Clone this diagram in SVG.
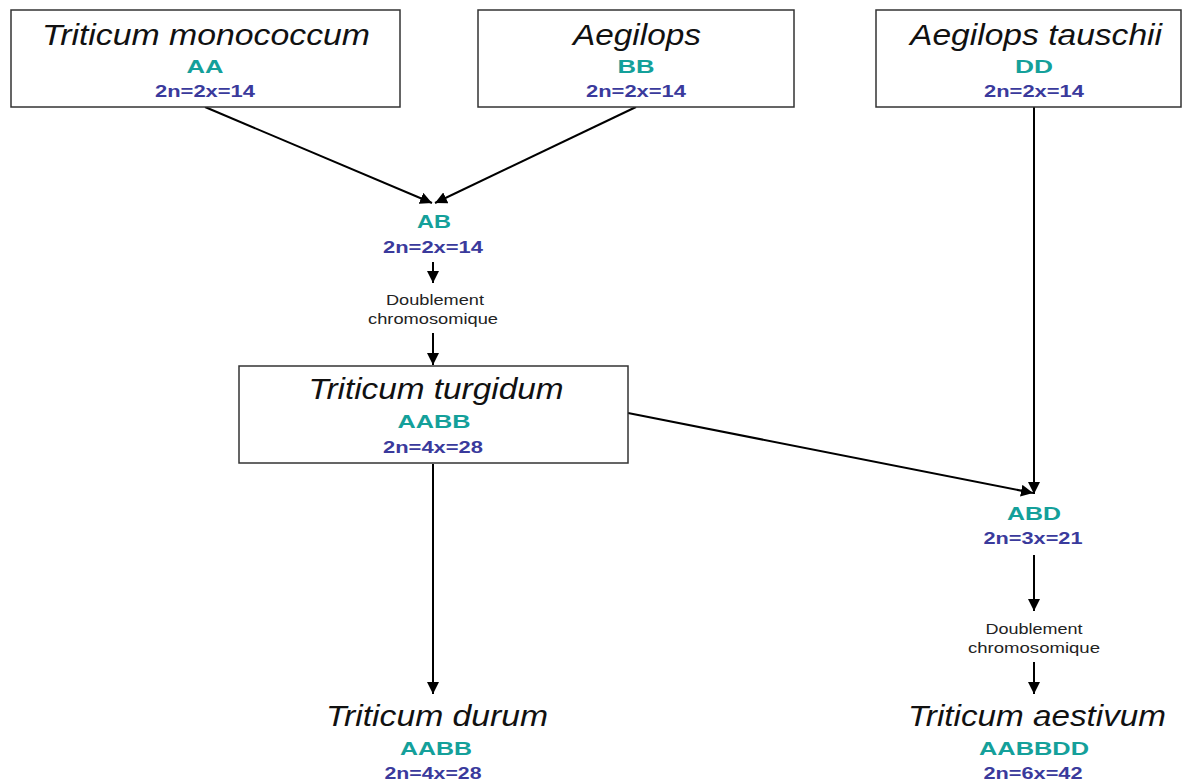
<svg xmlns="http://www.w3.org/2000/svg" width="1186" height="782" viewBox="0 0 1186 782">
<style>
.box{fill:#fff;stroke:#333;stroke-width:1.5}
text{text-anchor:middle}
.t{font-family:"Liberation Sans",Arial,sans-serif;font-style:italic;font-size:29px;fill:#111}
.g{font-family:"Liberation Sans",Arial,sans-serif;font-weight:bold;font-size:19px;fill:#14a09a}
.n{font-family:"Liberation Sans",Arial,sans-serif;font-weight:bold;font-size:16.5px;fill:#3a3a9c}
.s{font-family:"Liberation Sans",Arial,sans-serif;font-size:14px;fill:#222}
.c{stroke:#000;stroke-width:2;fill:none;marker-end:url(#ah)}
</style>
<defs>
<marker id="ah" viewBox="0 0 10 10" refX="10" refY="5" markerWidth="6" markerHeight="6" markerUnits="strokeWidth" orient="auto">
<path d="M0,0 L10,5 L0,10 z" fill="#000"/>
</marker>
</defs>
<rect width="1186" height="782" fill="#fff"/>
<g id="connectors">
<line class="c" x1="205" y1="107" x2="432" y2="203"/>
<line class="c" x1="636" y1="107" x2="435" y2="203"/>
<line class="c" x1="433" y1="262" x2="433" y2="283"/>
<line class="c" x1="433" y1="333" x2="433" y2="365"/>
<line class="c" x1="433" y1="464" x2="433" y2="694"/>
<line class="c" x1="628" y1="413" x2="1033" y2="493"/>
<line class="c" x1="1034" y1="107" x2="1034" y2="494"/>
<line class="c" x1="1034" y1="555" x2="1034" y2="611"/>
<line class="c" x1="1034" y1="662" x2="1034" y2="694"/>
</g>
<g id="monococcum">
<rect class="box" x="11" y="10" width="389" height="97"/>
<text class="t" x="206" y="45" textLength="328" lengthAdjust="spacingAndGlyphs">Triticum monococcum</text>
<text class="g" x="205" y="73" textLength="37" lengthAdjust="spacingAndGlyphs">AA</text>
<text class="n" x="205" y="97" textLength="100" lengthAdjust="spacingAndGlyphs">2n=2x=14</text>
</g>
<g id="aegilops">
<rect class="box" x="478" y="10" width="316" height="97"/>
<text class="t" x="637" y="45" textLength="128" lengthAdjust="spacingAndGlyphs">Aegilops</text>
<text class="g" x="636" y="73" textLength="37" lengthAdjust="spacingAndGlyphs">BB</text>
<text class="n" x="636" y="97" textLength="100" lengthAdjust="spacingAndGlyphs">2n=2x=14</text>
</g>
<g id="tauschii">
<rect class="box" x="876" y="10" width="305" height="97"/>
<text class="t" x="1036" y="45" textLength="252" lengthAdjust="spacingAndGlyphs">Aegilops tauschii</text>
<text class="g" x="1034" y="73" textLength="38" lengthAdjust="spacingAndGlyphs">DD</text>
<text class="n" x="1034" y="97" textLength="100" lengthAdjust="spacingAndGlyphs">2n=2x=14</text>
</g>
<g id="ab">
<text class="g" x="434" y="228" textLength="34" lengthAdjust="spacingAndGlyphs">AB</text>
<text class="n" x="433" y="253" textLength="100" lengthAdjust="spacingAndGlyphs">2n=2x=14</text>
</g>
<g id="doublement1">
<text class="s" x="435" y="305" textLength="98" lengthAdjust="spacingAndGlyphs">Doublement</text>
<text class="s" x="433" y="324" textLength="130" lengthAdjust="spacingAndGlyphs">chromosomique</text>
</g>
<g id="turgidum">
<rect class="box" x="239" y="366" width="389" height="97"/>
<text class="t" x="436" y="399" textLength="255" lengthAdjust="spacingAndGlyphs">Triticum turgidum</text>
<text class="g" x="434" y="428" textLength="73" lengthAdjust="spacingAndGlyphs">AABB</text>
<text class="n" x="433" y="453" textLength="100" lengthAdjust="spacingAndGlyphs">2n=4x=28</text>
</g>
<g id="abd">
<text class="g" x="1034" y="520" textLength="54" lengthAdjust="spacingAndGlyphs">ABD</text>
<text class="n" x="1033" y="544" textLength="99" lengthAdjust="spacingAndGlyphs">2n=3x=21</text>
</g>
<g id="doublement2">
<text class="s" x="1034" y="634" textLength="97" lengthAdjust="spacingAndGlyphs">Doublement</text>
<text class="s" x="1034" y="653" textLength="132" lengthAdjust="spacingAndGlyphs">chromosomique</text>
</g>
<g id="durum">
<text class="t" x="437" y="726" textLength="222" lengthAdjust="spacingAndGlyphs">Triticum durum</text>
<text class="g" x="436" y="755" textLength="72" lengthAdjust="spacingAndGlyphs">AABB</text>
<text class="n" x="433" y="779" textLength="97" lengthAdjust="spacingAndGlyphs">2n=4x=28</text>
</g>
<g id="aestivum">
<text class="t" x="1037" y="726" textLength="258" lengthAdjust="spacingAndGlyphs">Triticum aestivum</text>
<text class="g" x="1034" y="755" textLength="110" lengthAdjust="spacingAndGlyphs">AABBDD</text>
<text class="n" x="1033" y="779" textLength="99" lengthAdjust="spacingAndGlyphs">2n=6x=42</text>
</g>
</svg>
